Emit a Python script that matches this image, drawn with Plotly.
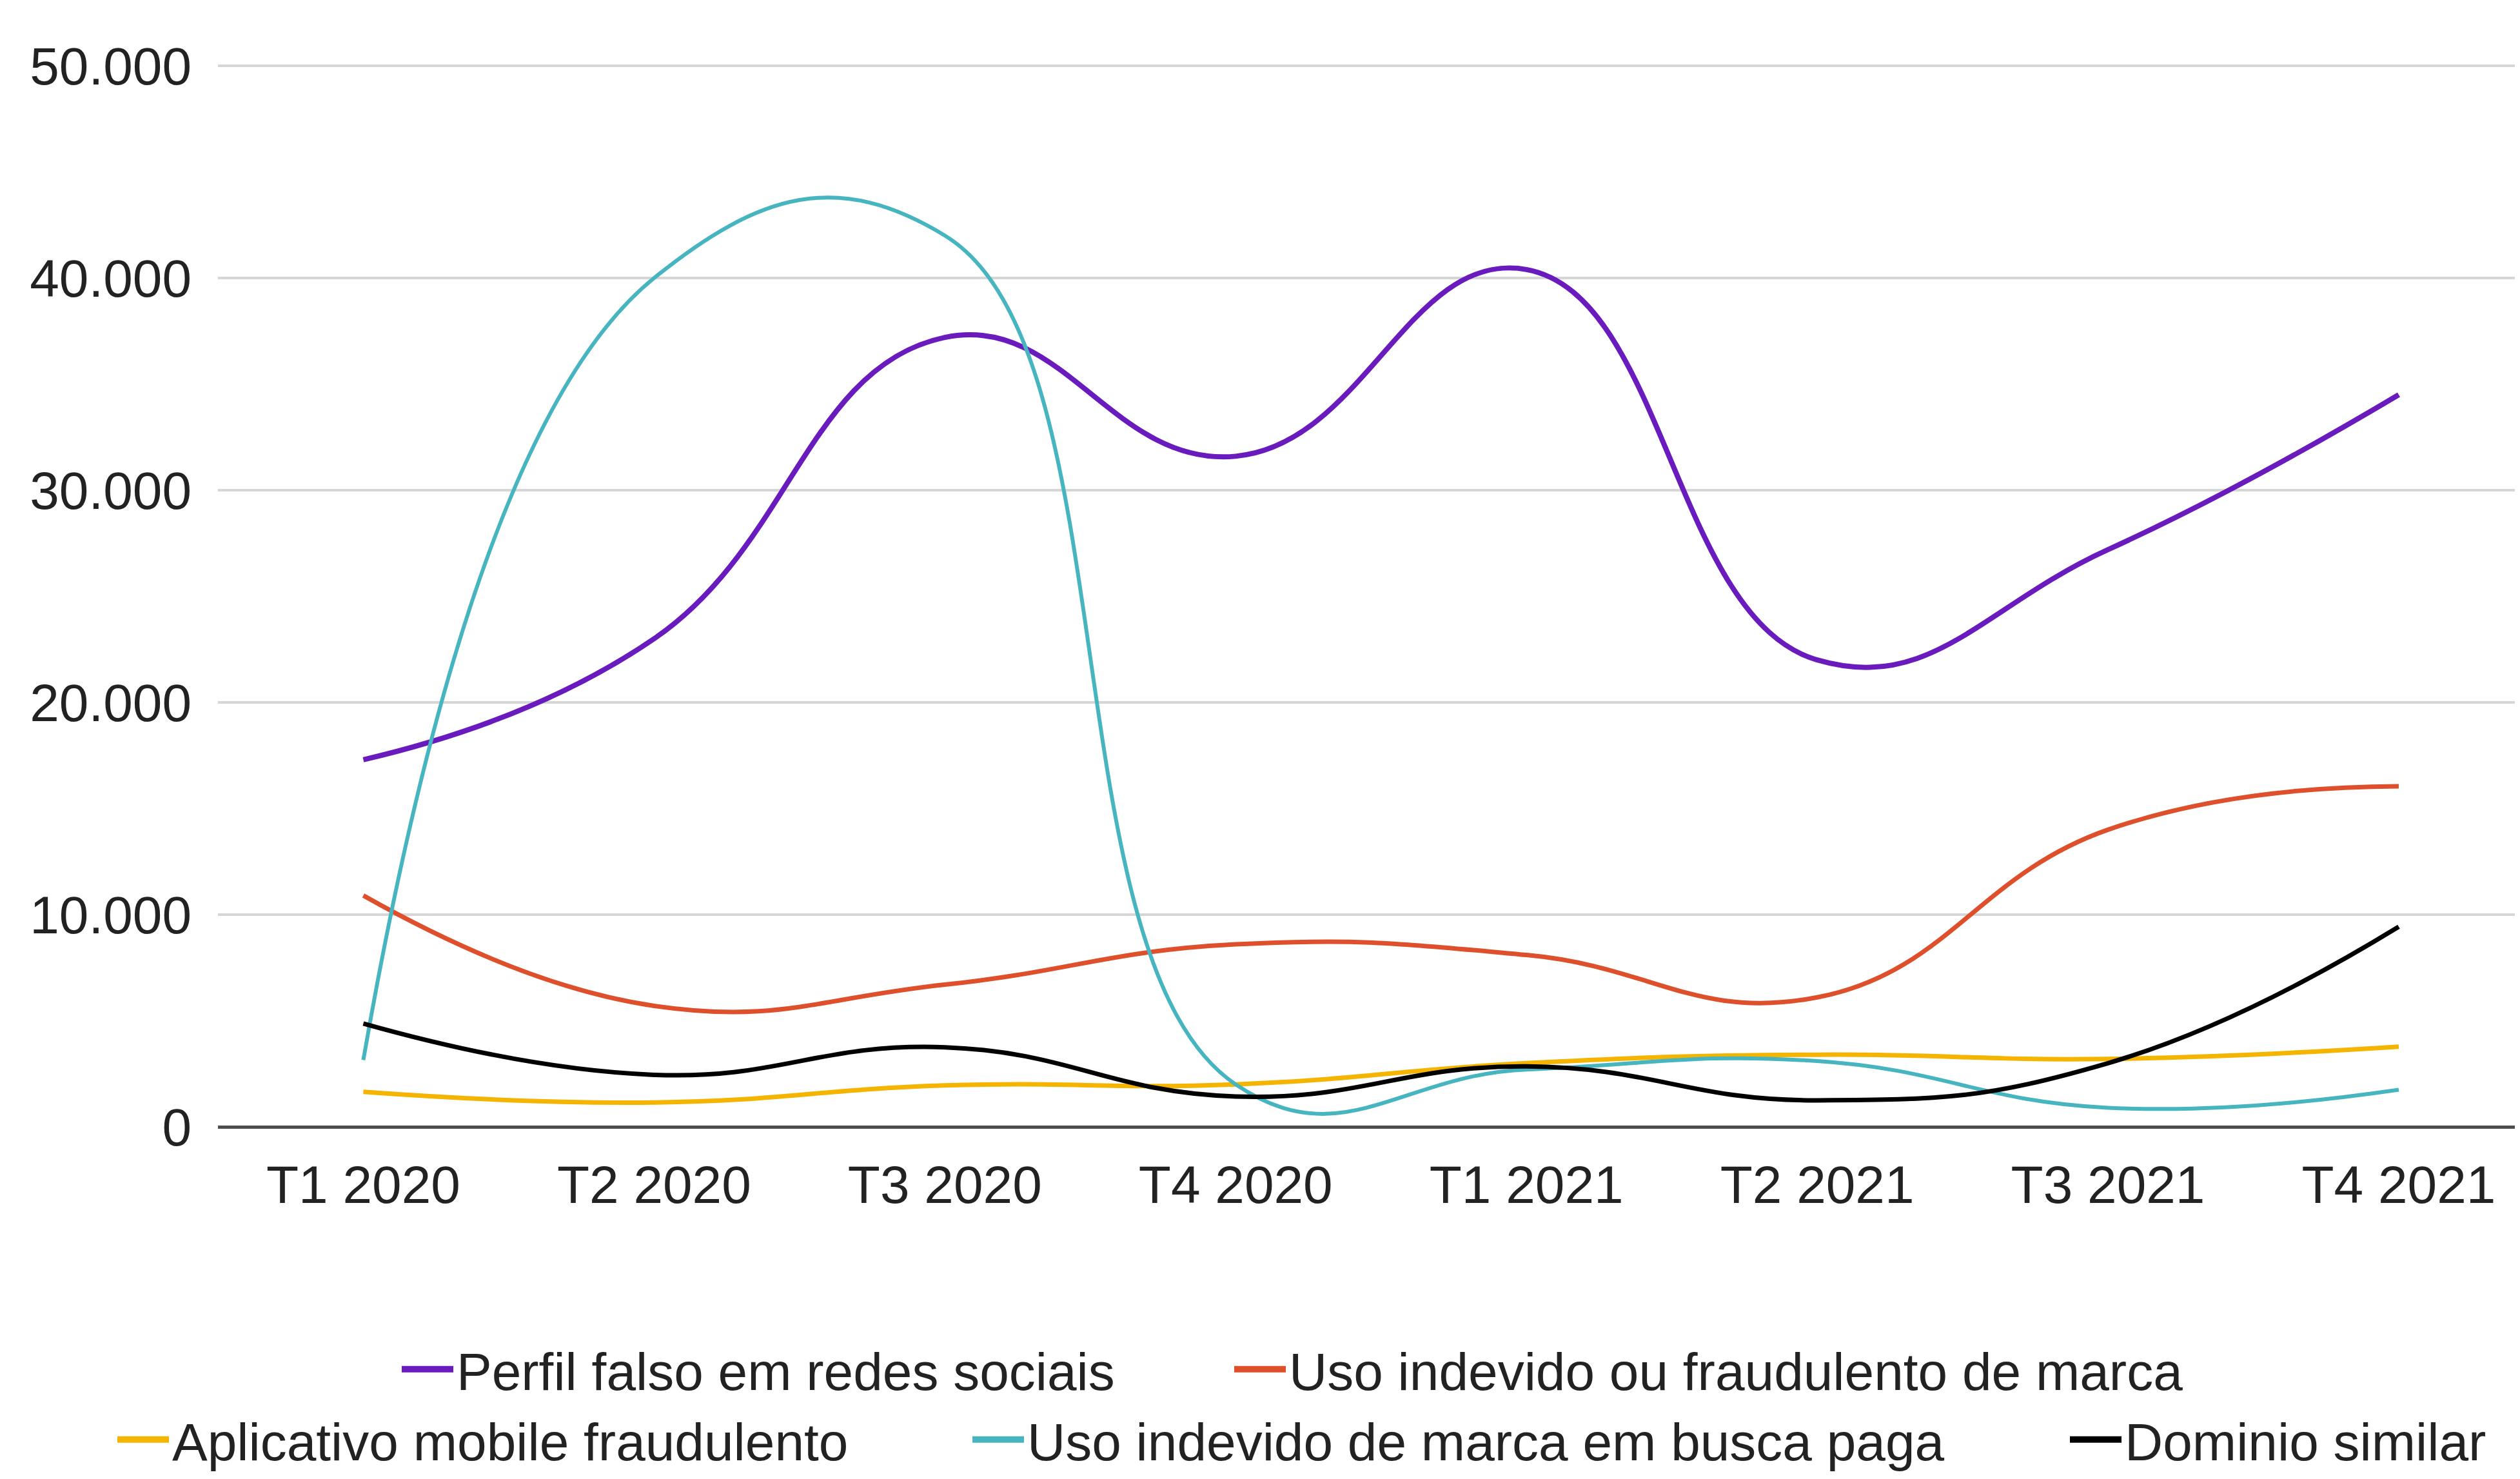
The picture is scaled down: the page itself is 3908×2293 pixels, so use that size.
import plotly.graph_objects as go

# ---- data ----
categories = ["T1 2020", "T2 2020", "T3 2020", "T4 2020",
              "T1 2021", "T2 2021", "T3 2021", "T4 2021"]

perfil_falso = [17300, 23000, 37200, 31600, 40400, 22000, 27200, 34500]
uso_indevido_marca = [10900, 5700, 6700, 8600, 8100, 6100, 14000, 16050]
aplicativo_mobile = [1650, 1150, 1950, 2000, 3000, 3400, 3200, 3780]
busca_paga = [3150, 40000, 42000, 2000, 2700, 3100, 900, 1750]
dominio_similar = [4870, 2450, 3750, 1430, 2850, 1250, 3000, 9430]

series_names = [
    "Perfil falso em redes sociais",
    "Uso indevido ou fraudulento de marca",
    "Aplicativo mobile fraudulento",
    "Uso indevido de marca em busca paga",
    "Dominio similar",
]

y_tickvals = [0, 10000, 20000, 30000, 40000, 50000]
y_ticktext = ["0", "10.000", "20.000", "30.000", "40.000", "50.000"]

# ---- styling ----
# page body has an 8px margin, so the figure is 8px smaller than the window
W, H = 3900, 2285
FONT = "Liberation Sans, Arial, sans-serif"
TXT = "#222222"
colors = ["#6a1bbd", "#de4f2c", "#f4b400", "#46b5c0", "#000000"]
widths = [8, 7, 7, 6, 7]
series = [perfil_falso, uso_indevido_marca, aplicativo_mobile, busca_paga, dominio_similar]
legend_ids = ["legend", "legend2", "legend3", "legend4", "legend5"]
# text start x (px) and row center y (px) of each legend entry (figure coords)
legend_text_x = [702, 1993, 261, 1587, 3289]
legend_row_y = [2115, 2115, 2224, 2224, 2224]
ITEMW = 80

fig = go.Figure()
for name, vals, col, w in zip(series_names, series, colors, widths):
    fig.add_trace(go.Scatter(
        x=categories, y=vals, mode="lines", name=name,
        line=dict(color=col, width=w, shape="spline", smoothing=1.3),
        showlegend=False,
    ))

for name, col, lid in zip(series_names, colors, legend_ids):
    fig.add_trace(go.Scatter(
        x=[categories[0]], y=[None], mode="lines", name=name,
        line=dict(color=col, width=26), legend=lid, showlegend=True,
        hoverinfo="skip",
    ))

layout_legends = {}
for lid, tx, ty in zip(legend_ids, legend_text_x, legend_row_y):
    layout_legends[lid] = dict(
        xref="container", yref="container",
        x=(tx - ITEMW - 12) / W, xanchor="left",
        y=1 - ty / H, yanchor="middle",
        orientation="h", itemwidth=ITEMW,
        font=dict(family=FONT, size=82, color=TXT),
        bgcolor="rgba(0,0,0,0)", borderwidth=0,
    )

plot_left = 330
plot_top = 91
plot_bottom = 1739
y_top = 50000 * (plot_bottom - plot_top) / 1645.0

fig.update_layout(
    width=W, height=H,
    paper_bgcolor="white", plot_bgcolor="white",
    margin=dict(l=plot_left, r=0, t=plot_top, b=H - plot_bottom, autoexpand=False),
    font=dict(family=FONT, size=82, color=TXT),
    xaxis=dict(
        type="category", range=[-0.5, 7.417],
        showgrid=False, showline=False, zeroline=False, ticks="",
        tickfont=dict(family=FONT, size=82, color=TXT),
        ticklabelstandoff=35,
    ),
    yaxis=dict(
        range=[0, y_top], tickvals=y_tickvals, ticktext=y_ticktext,
        showgrid=True, gridcolor="#d6d6d6", gridwidth=4,
        zeroline=True, zerolinecolor="#4d4d4d", zerolinewidth=5,
        showline=False, ticks="",
        tickfont=dict(family=FONT, size=82, color=TXT),
        ticklabelstandoff=40,
    ),
    **layout_legends,
)

fig.write_html("out.html")
